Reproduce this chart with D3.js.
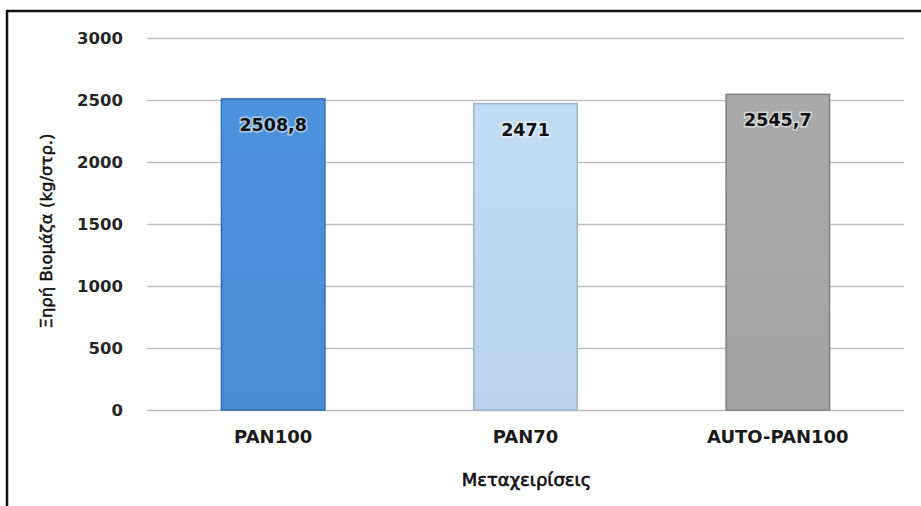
<!DOCTYPE html>
<html>
<head>
<meta charset="utf-8">
<script src="https://cdn.jsdelivr.net/npm/d3@7"></script>
<style>
  html, body { margin: 0; padding: 0; background: #fff; }
  svg { display: block; }
</style>
</head>
<body>
<svg id="chart" width="921" height="506"></svg>
<script>
const categories = ["PAN100", "PAN70", "AUTO-PAN100"];
const values = [2508.8, 2471, 2545.7];
const yTicks = [0, 500, 1000, 1500, 2000, 2500, 3000];
const yTitle = "Ξηρή Βιομάζα (kg/στρ.)";
const xTitle = "Μεταχειρίσεις";
const fills = ["#4b8fd8", "#bdd7ee", "#a5a5a5"];
const strokes = ["#2f6eb3", "#9ab6d2", "#7f7f7f"];

const svg = d3.select("#chart");
const W = 921, H = 506;
const plot = { left: 147, right: 904, top: 38, bottom: 410 };

const loc = d3.formatLocale({ decimal: ",", thousands: ".", grouping: [3], currency: ["", ""] });
const fmt = loc.format(".1~f");

// frame
svg.append("rect").attr("x", 7).attr("y", 11).attr("width", W + 10).attr("height", H + 10)
  .attr("fill", "#fff").attr("stroke", "#111").attr("stroke-width", 2.5);

const x = d3.scaleBand().domain(categories).range([plot.left, plot.right])
  .paddingInner(0.59).paddingOuter(0.295);
const y = d3.scaleLinear().domain([0, 3000]).range([plot.bottom, plot.top]);

// gradients
const defs = svg.append("defs");
categories.forEach((c, i) => {
  const g = defs.append("linearGradient").attr("id", "g" + i)
    .attr("x1", "0").attr("x2", "0").attr("y1", "0").attr("y2", "1");
  const base = d3.color(fills[i]);
  g.append("stop").attr("offset", "0%").attr("stop-color", base.brighter(0.06).formatHex());
  g.append("stop").attr("offset", "100%").attr("stop-color", base.darker(0.06).formatHex());
});

// gridlines
const yAxis = d3.axisLeft(y).tickValues(yTicks).tickFormat(d3.format("d"))
  .tickSize(-(plot.right - plot.left)).tickPadding(24);
const ga = svg.append("g").attr("transform", `translate(${plot.left},0)`).call(yAxis);
ga.select(".domain").remove();
ga.selectAll(".tick line").attr("stroke", "#bfbfbf").attr("stroke-width", 1.6);
ga.selectAll(".tick text")
  .attr("font-family", "DejaVu Sans, sans-serif").attr("font-weight", "bold")
  .attr("font-size", 16.5).attr("fill", "#262626");

// bars
svg.append("g").selectAll("rect").data(values).join("rect")
  .attr("x", (d, i) => x(categories[i]))
  .attr("y", d => y(d))
  .attr("width", x.bandwidth())
  .attr("height", d => y(0) - y(d))
  .attr("fill", (d, i) => `url(#g${i})`)
  .attr("stroke", (d, i) => strokes[i])
  .attr("stroke-width", 1.5);

// value labels
svg.append("g").selectAll("text").data(values).join("text")
  .attr("x", (d, i) => x(categories[i]) + x.bandwidth() / 2)
  .attr("y", d => y(d) + 32)
  .attr("text-anchor", "middle")
  .attr("font-family", "DejaVu Sans, sans-serif").attr("font-weight", "bold")
  .attr("font-size", 17.5).attr("fill", "#111")
  .attr("stroke", "#fff").attr("stroke-width", 3).attr("stroke-opacity", 0.55)
  .attr("paint-order", "stroke")
  .text(d => fmt(d));

// x labels
const xAxis = d3.axisBottom(x).tickSize(0).tickPadding(20);
const gx = svg.append("g").attr("transform", `translate(0,${plot.bottom})`).call(xAxis);
gx.select(".domain").remove();
gx.selectAll(".tick text")
  .attr("font-family", "DejaVu Sans, sans-serif").attr("font-weight", "bold")
  .attr("font-size", 18).attr("fill", "#1a1a1a");

// axis titles
svg.append("text").attr("x", (plot.left + plot.right) / 2 + 1).attr("y", 486)
  .attr("text-anchor", "middle")
  .attr("font-family", "DejaVu Sans, sans-serif").attr("font-size", 18)
  .attr("fill", "#111").attr("stroke", "#111").attr("stroke-width", 0.65)
  .text(xTitle);

svg.append("text").attr("transform", "translate(52,231) rotate(-90)")
  .attr("text-anchor", "middle")
  .attr("font-family", "DejaVu Sans, sans-serif").attr("font-size", 16.5)
  .attr("fill", "#111").attr("stroke", "#111").attr("stroke-width", 0.5)
  .text(yTitle);
</script>
</body>
</html>
